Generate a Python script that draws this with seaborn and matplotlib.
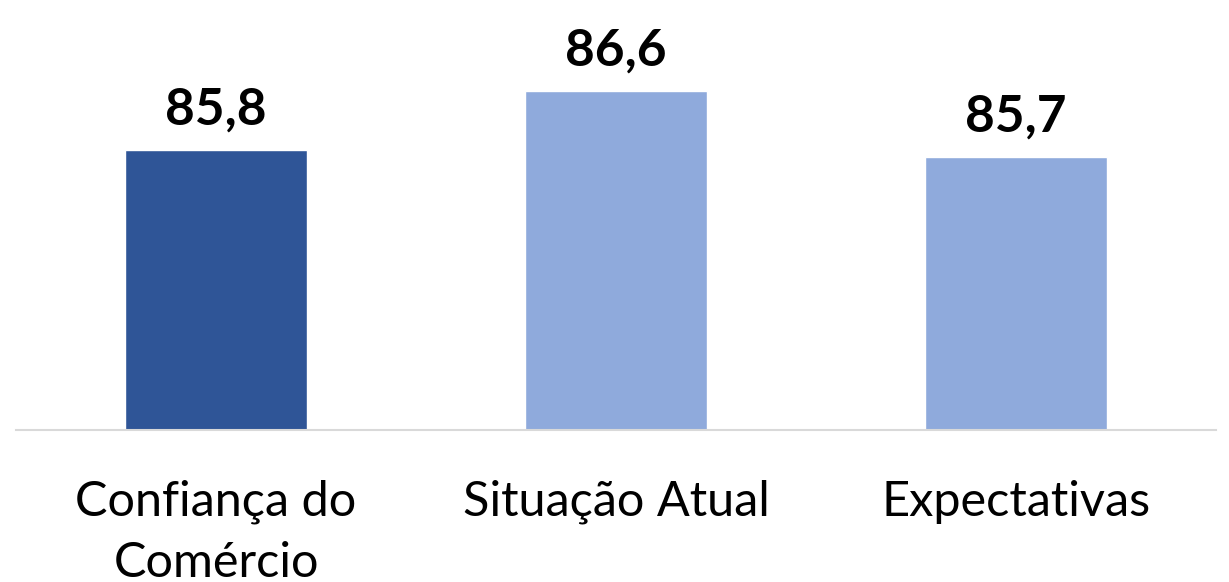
import matplotlib
matplotlib.use("Agg")
import matplotlib.pyplot as plt
import seaborn as sns
import pandas as pd

categories = ["Confiança do\nComércio", "Situação Atual", "Expectativas"]
values = [85.8, 86.6, 85.7]
labels = ["85,8", "86,6", "85,7"]
colors = ["#2F5597", "#8FAADC", "#8FAADC"]

sns.set_theme(style="white")
plt.rcParams['font.family'] = ['Lato', 'DejaVu Sans']

df = pd.DataFrame({"cat": categories, "val": values})

fig = plt.figure(figsize=(12.29, 5.82), dpi=100)
ax = fig.add_axes([16/1229, 152/582, 1200/1229, 420/582])
sns.barplot(data=df, x="cat", y="val", hue="cat", palette=colors, legend=False,
            width=0.455, ax=ax, saturation=1)
ax.set_ylim(82.0, 82.0 + 420/73.75)
ax.set_xlim(-0.5, 2.5)
for i, (v, l) in enumerate(zip(values, labels)):
    ax.text(i, v + 0.22, l, ha="center", va="bottom", fontsize=37, fontweight="bold", color="black")
for s in ["top", "left", "right"]:
    ax.spines[s].set_visible(False)
ax.spines["bottom"].set_color("#D9D9D9")
ax.spines["bottom"].set_linewidth(1.5)
ax.set_yticks([])
ax.set_xlabel("")
ax.set_ylabel("")
ax.tick_params(axis="x", length=0, pad=36, labelsize=35, colors="black")
for t in ax.get_xticklabels():
    t.set_linespacing(1.45)
fig.savefig("out.png", dpi=100)
